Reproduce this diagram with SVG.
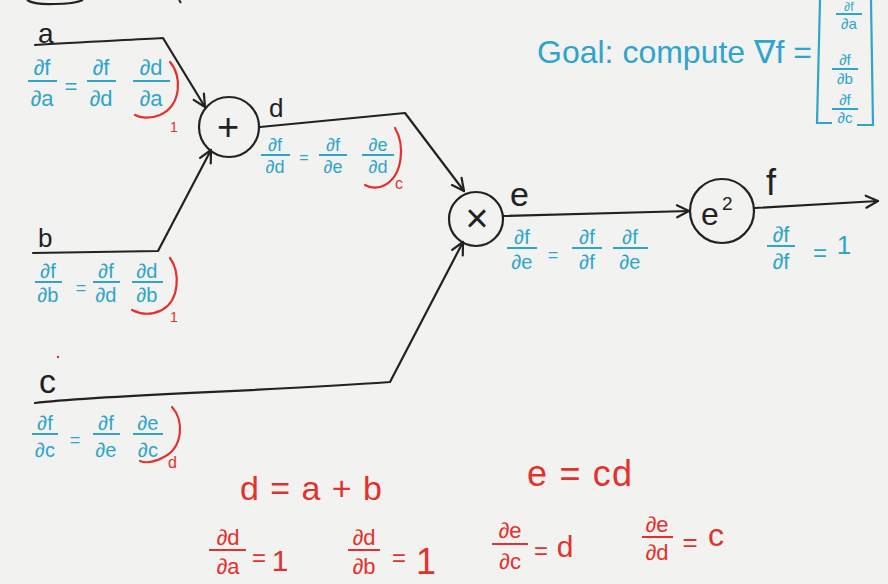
<svg xmlns="http://www.w3.org/2000/svg" width="888" height="584" viewBox="0 0 888 584">
<style>
text { font-family: "Liberation Sans", "DejaVu Sans", sans-serif; }
.k { fill:#222; }
.b { fill:#2fa5cb; }
.r { fill:#e3312d; }
.m { text-anchor:middle; }
.bar { stroke:#2fa5cb; stroke-width:2; }
.rbar { stroke:#e3312d; stroke-width:2; }
.edge { fill:none; stroke:#222; stroke-width:2.2; stroke-linecap:round; stroke-linejoin:round; }
.node { fill:none; stroke:#222; stroke-width:2.2; }
.arc { fill:none; stroke:#e3312d; stroke-width:2.2; stroke-linecap:round; }
.brk { fill:none; stroke:#2fa5cb; stroke-width:2.2; }
</style>
<defs>
<marker id="ah" viewBox="0 0 16 16" markerWidth="16" markerHeight="16" refX="14" refY="8" orient="auto" markerUnits="userSpaceOnUse">
<path d="M2,2 L14,8 L2,14" fill="none" stroke="#222" stroke-width="2.2" stroke-linecap="round" stroke-linejoin="round"/>
</marker>
</defs>
<rect width="888" height="584" fill="#f2f2f0"/>
<path d="M27,0 Q35,5 55,4 Q74,4 83,0" fill="none" stroke="#222" stroke-width="2.2"/>
<path d="M179,0 L181,3" fill="none" stroke="#222" stroke-width="2"/>

<g id="connectors">
<path class="edge" d="M35,45 C80,42 130,40 163,38 L205,107" marker-end="url(#ah)"/>
<path class="edge" d="M33,253 L158,251 L211,150" marker-end="url(#ah)"/>
<path class="edge" d="M260,127 L405,113 L464,191" marker-end="url(#ah)"/>
<path class="edge" d="M35,403 C100,395 250,392 390,382 L463,242" marker-end="url(#ah)"/>
<path class="edge" d="M503,216 L689,211" marker-end="url(#ah)"/>
<path class="edge" d="M755,208 L878,201" marker-end="url(#ah)"/>
</g>

<g id="node-plus">
<circle class="node" cx="229" cy="127" r="30"/>
<text class="k m" x="228" y="140" font-size="38">+</text>
</g>
<g id="node-times">
<circle class="node" cx="476" cy="219" r="27"/>
<text class="k m" x="477" y="232" font-size="40">×</text>
</g>
<g id="node-square">
<circle class="node" cx="722" cy="211" r="32"/>
<text class="k" x="701" y="225" font-size="32">e</text>
<text class="k" x="722" y="210" font-size="19">2</text>
</g>

<g id="var-a">
<text class="k" x="38" y="43" font-size="28">a</text>
<text class="b m" x="42" y="75" font-size="22">∂f</text>
<line class="bar" x1="28" y1="81" x2="57" y2="81"/>
<text class="b m" x="42" y="106" font-size="22">∂a</text>
<text class="b m" x="71" y="94" font-size="22">=</text>
<text class="b m" x="101" y="75" font-size="22">∂f</text>
<line class="bar" x1="87" y1="81" x2="116" y2="81"/>
<text class="b m" x="101" y="106" font-size="22">∂d</text>
<text class="b m" x="151" y="75" font-size="22">∂d</text>
<line class="bar" x1="133" y1="81" x2="170" y2="81"/>
<text class="b m" x="151" y="106" font-size="22">∂a</text>
<path class="arc" d="M170,62 C182,75 182,105 160,115 C150,119 140,118 135,115"/>
<text class="r" x="170" y="132" font-size="14">1</text>
</g>

<g id="var-b">
<text class="k" x="38" y="247" font-size="26">b</text>
<text class="b m" x="48" y="278" font-size="20">∂f</text>
<line class="bar" x1="35" y1="282" x2="62" y2="282"/>
<text class="b m" x="48" y="302" font-size="20">∂b</text>
<text class="b m" x="81" y="294" font-size="18">=</text>
<text class="b m" x="106" y="278" font-size="20">∂f</text>
<line class="bar" x1="93" y1="282" x2="120" y2="282"/>
<text class="b m" x="106" y="302" font-size="20">∂d</text>
<text class="b m" x="147" y="278" font-size="20">∂d</text>
<line class="bar" x1="132" y1="282" x2="163" y2="282"/>
<text class="b m" x="147" y="302" font-size="20">∂b</text>
<path class="arc" d="M170,258 C180,272 180,300 162,310 C150,316 140,314 132,310"/>
<text class="r" x="170" y="322" font-size="14">1</text>
</g>

<g id="var-c">
<circle cx="58" cy="357" r="1.2" fill="#e3312d"/>
<text class="k" x="39" y="393" font-size="34">c</text>
<text class="b m" x="45" y="430" font-size="20">∂f</text>
<line class="bar" x1="32" y1="434" x2="58" y2="434"/>
<text class="b m" x="45" y="457" font-size="20">∂c</text>
<text class="b m" x="75" y="446" font-size="18">=</text>
<text class="b m" x="106" y="430" font-size="20">∂f</text>
<line class="bar" x1="93" y1="434" x2="120" y2="434"/>
<text class="b m" x="106" y="457" font-size="20">∂e</text>
<text class="b m" x="148" y="430" font-size="20">∂e</text>
<line class="bar" x1="133" y1="434" x2="163" y2="434"/>
<text class="b m" x="148" y="457" font-size="20">∂c</text>
<path class="arc" d="M172,407 C184,420 184,448 162,458 C152,463 145,463 140,461"/>
<text class="r" x="168" y="468" font-size="16">d</text>
</g>

<g id="var-d">
<text class="k" x="269" y="117" font-size="26">d</text>
<text class="b m" x="275" y="151" font-size="18">∂f</text>
<line class="bar" x1="261" y1="155" x2="290" y2="155"/>
<text class="b m" x="275" y="173" font-size="18">∂d</text>
<text class="b m" x="304" y="163" font-size="16">=</text>
<text class="b m" x="333" y="151" font-size="18">∂f</text>
<line class="bar" x1="319" y1="155" x2="347" y2="155"/>
<text class="b m" x="333" y="173" font-size="18">∂e</text>
<text class="b m" x="378" y="151" font-size="18">∂e</text>
<line class="bar" x1="362" y1="155" x2="394" y2="155"/>
<text class="b m" x="378" y="173" font-size="18">∂d</text>
<path class="arc" d="M395,128 C405,145 403,175 385,185 C378,189 370,188 365,185"/>
<text class="r" x="395" y="189" font-size="16">c</text>
</g>

<g id="var-e">
<text class="k" x="510" y="206" font-size="34">e</text>
<text class="b m" x="522" y="244" font-size="20">∂f</text>
<line class="bar" x1="507" y1="248" x2="537" y2="248"/>
<text class="b m" x="522" y="269" font-size="20">∂e</text>
<text class="b m" x="553" y="261" font-size="18">=</text>
<text class="b m" x="587" y="244" font-size="20">∂f</text>
<line class="bar" x1="572" y1="248" x2="602" y2="248"/>
<text class="b m" x="587" y="269" font-size="20">∂f</text>
<text class="b m" x="630" y="244" font-size="20">∂f</text>
<line class="bar" x1="613" y1="248" x2="648" y2="248"/>
<text class="b m" x="630" y="269" font-size="20">∂e</text>
</g>

<g id="var-f">
<text class="k" x="766" y="195" font-size="36">f</text>
<text class="b m" x="781" y="242" font-size="22">∂f</text>
<line class="bar" x1="767" y1="246" x2="795" y2="246"/>
<text class="b m" x="781" y="269" font-size="22">∂f</text>
<text class="b m" x="820" y="261" font-size="24">=</text>
<text class="b m" x="844" y="254" font-size="26">1</text>
</g>

<g id="goal">
<text class="b" x="537" y="63" font-size="32">Goal: compute ∇f =</text>
<path class="brk" d="M820,0 L817,123 L832,123"/>
<path class="brk" d="M871,0 L873,125 L857,125"/>
<text class="b m" x="849" y="11" font-size="12">∂f</text>
<line class="bar" x1="836" y1="14" x2="862" y2="14"/>
<text class="b m" x="849" y="29" font-size="15">∂a</text>
<text class="b m" x="845" y="65" font-size="15">∂f</text>
<line class="bar" x1="832" y1="69" x2="858" y2="69"/>
<text class="b m" x="845" y="84" font-size="15">∂b</text>
<text class="b m" x="845" y="105" font-size="15">∂f</text>
<line class="bar" x1="832" y1="109" x2="858" y2="109"/>
<text class="b m" x="845" y="123" font-size="15">∂c</text>
</g>

<g id="local-gradients">
<text class="r" x="240" y="500" font-size="34" textLength="142" lengthAdjust="spacing">d = a + b</text>
<text class="r" x="527" y="486" font-size="36" textLength="105" lengthAdjust="spacing">e = cd</text>
<text class="r m" x="228" y="545" font-size="22">∂d</text>
<line class="rbar" x1="209" y1="550" x2="246" y2="550"/>
<text class="r m" x="228" y="574" font-size="22">∂a</text>
<text class="r m" x="259" y="566" font-size="24">=</text>
<text class="r m" x="280" y="571" font-size="30">1</text>
<text class="r m" x="364" y="545" font-size="22">∂d</text>
<line class="rbar" x1="348" y1="550" x2="380" y2="550"/>
<text class="r m" x="364" y="574" font-size="22">∂b</text>
<text class="r m" x="399" y="566" font-size="24">=</text>
<text class="r m" x="426" y="574" font-size="36">1</text>
<text class="r m" x="510" y="538" font-size="22">∂e</text>
<line class="rbar" x1="492" y1="544" x2="528" y2="544"/>
<text class="r m" x="510" y="569" font-size="22">∂c</text>
<text class="r m" x="541" y="559" font-size="24">=</text>
<text class="r m" x="565" y="557" font-size="30">d</text>
<text class="r m" x="657" y="532" font-size="22">∂e</text>
<line class="rbar" x1="642" y1="537" x2="673" y2="537"/>
<text class="r m" x="657" y="560" font-size="22">∂d</text>
<text class="r m" x="690" y="551" font-size="26">=</text>
<text class="r m" x="716" y="546" font-size="32">c</text>
</g>
</svg>
